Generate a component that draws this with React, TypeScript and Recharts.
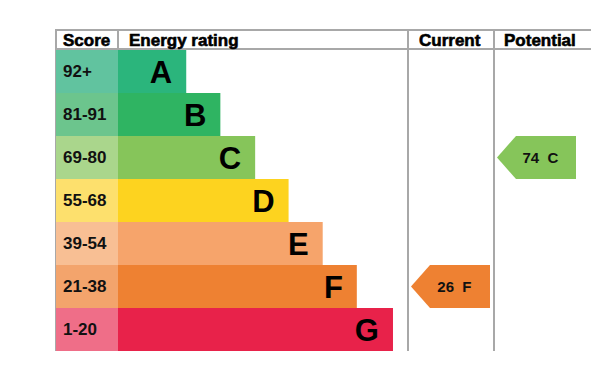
import { Bar, BarChart, Cell, Customized, LabelList, XAxis, YAxis } from "recharts"

const bands = ["A", "B", "C", "D", "E", "F", "G"]
const scoreRanges = ["92+", "81-91", "69-80", "55-68", "39-54", "21-38", "1-20"]
const barLengths = [2, 3, 4.02, 5, 6, 7, 8.06]
const barColors = ["#2bb57c", "#2fb462", "#86c55a", "#fdd31f", "#f6a46b", "#ee8132", "#e8224a"]
const scoreColors = ["#61c39f", "#6cc58d", "#aad68c", "#fde06d", "#f8bf94", "#f3a46c", "#ef6e88"]
const headers = ["Score", "Energy rating", "Current", "Potential"]

const currentScore = 26
const currentBand = "F"
const potentialScore = 74
const potentialBand = "C"

const data = bands.map((band, i) => ({ band, range: scoreRanges[i], length: barLengths[i] }))

const W = 591
const H = 370
const TOP = 50
const BOTTOM = 351
const LEFT = 56
const SCORE_W = 62
const PLOT_RIGHT = 408
const COL_W = 86
const ROW_H = (BOTTOM - TOP) / bands.length
const FONT = "'Liberation Sans', Arial, sans-serif"
const GRID = "#a8a8a8"

function ScoreTick({ y, payload }: any) {
  const i = bands.indexOf(payload.value)
  return (
    <g>
      <rect x={LEFT} y={y - ROW_H / 2} width={SCORE_W} height={ROW_H} fill={scoreColors[i]} />
      <text x={LEFT + 7} y={y} dominantBaseline="central" fontFamily={FONT} fontWeight="bold" fontSize={17} fill="#111">
        {scoreRanges[i]}
      </text>
    </g>
  )
}

function Arrow({ left, y, score, band }: { left: number; y: number; score: number; band: string }) {
  const tip = left + 3
  const right = left + COL_W - 4
  const top = y - ROW_H / 2
  const bottom = y + ROW_H / 2
  const body = tip + 19
  const color = barColors[bands.indexOf(band)]
  return (
    <g>
      <polygon points={`${tip},${y} ${body},${top} ${right},${top} ${right},${bottom} ${body},${bottom}`} fill={color} />
      <text
        x={tip + (right - tip) * 0.55}
        y={y}
        textAnchor="middle"
        dominantBaseline="central"
        fontFamily={FONT}
        fontWeight="bold"
        fontSize={15}
        fill="#111"
        style={{ whiteSpace: "pre" }}
      >
        {`${score}  ${band}`}
      </text>
    </g>
  )
}

function RatingTick({ y, payload }: any) {
  return (
    <g>
      {payload.value === currentBand && <Arrow left={PLOT_RIGHT} y={y} score={currentScore} band={currentBand} />}
      {payload.value === potentialBand && <Arrow left={PLOT_RIGHT + COL_W} y={y} score={potentialScore} band={potentialBand} />}
    </g>
  )
}

function Frame() {
  const headerX = [LEFT + 7, LEFT + SCORE_W + 11, PLOT_RIGHT + 11, PLOT_RIGHT + COL_W + 10]
  return (
    <g>
      <line x1={LEFT - 1} x2={W} y1={30} y2={30} stroke={GRID} strokeWidth={2} />
      <line x1={LEFT - 1} x2={W} y1={49} y2={49} stroke={GRID} strokeWidth={2} />
      <line x1={LEFT} x2={LEFT} y1={29} y2={BOTTOM} stroke={GRID} strokeWidth={2} />
      <line x1={LEFT + SCORE_W} x2={LEFT + SCORE_W} y1={29} y2={49} stroke={GRID} strokeWidth={2} />
      <line x1={PLOT_RIGHT} x2={PLOT_RIGHT} y1={29} y2={BOTTOM} stroke={GRID} strokeWidth={2} />
      <line x1={PLOT_RIGHT + COL_W} x2={PLOT_RIGHT + COL_W} y1={29} y2={BOTTOM} stroke={GRID} strokeWidth={2} />
      {headers.map((h, i) => (
        <text key={h} x={headerX[i]} y={46} fontFamily={FONT} fontWeight="bold" fontSize={17} fill="#000" stroke="#000" strokeWidth={0.6}>
          {h}
        </text>
      ))}
    </g>
  )
}

export default function App() {
  return (
    <div style={{ position: "absolute", left: 0, top: 0, width: W, height: H, background: "#fff" }}>
      <BarChart
        width={W}
        height={H}
        data={data}
        layout="vertical"
        barCategoryGap={0}
        margin={{ top: TOP, right: 0, bottom: H - BOTTOM, left: LEFT }}
      >
        <XAxis type="number" hide domain={[0, 8.5]} allowDataOverflow />
        <YAxis yAxisId="left" type="category" dataKey="band" width={SCORE_W} axisLine={false} tickLine={false} tick={<ScoreTick />} />
        <YAxis
          yAxisId="right"
          orientation="right"
          type="category"
          dataKey="band"
          width={W - PLOT_RIGHT}
          axisLine={false}
          tickLine={false}
          tick={<RatingTick />}
        />
        <Bar yAxisId="left" dataKey="length" isAnimationActive={false}>
          {data.map((d, i) => (
            <Cell key={d.band} fill={barColors[i]} />
          ))}
          <LabelList
            dataKey="band"
            content={(p: any) => (
              <text
                x={p.x + p.width - 14}
                y={p.y + p.height / 2 + 1}
                textAnchor="end"
                dominantBaseline="central"
                fontFamily={FONT}
                fontWeight="bold"
                fontSize={31}
                fill="#000"
              >
                {p.value}
              </text>
            )}
          />
        </Bar>
        <Customized component={<Frame />} />
      </BarChart>
    </div>
  )
}
